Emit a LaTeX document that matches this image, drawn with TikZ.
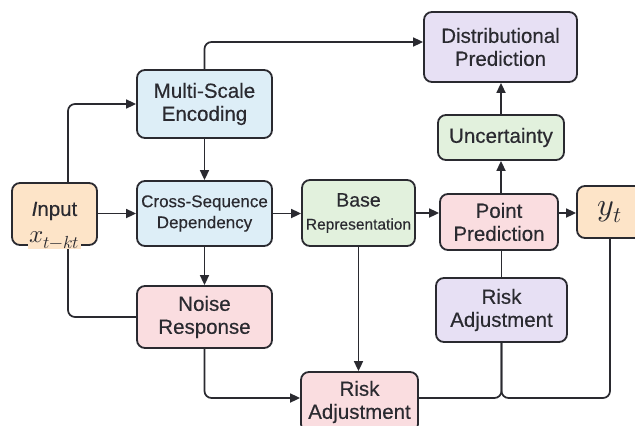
\documentclass[tikz,border=0pt]{standalone}
\usepackage{fontspec}
\usepackage{unicode-math}
\setmainfont{Liberation Sans}[FakeBold=0.35]
\setmathfont{Latin Modern Math}
\usetikzlibrary{arrows.meta,calc}
\definecolor{bordc}{HTML}{2A2A30}
\definecolor{orangef}{HTML}{FDE4C8}
\definecolor{bluef}{HTML}{DDEEF7}
\definecolor{greenf}{HTML}{E2F1DD}
\definecolor{pinkf}{HTML}{FADDE0}
\definecolor{purplef}{HTML}{E7E0F4}
\tikzset{
  box/.style={draw=bordc, line width=1.8pt, rounded corners=8pt, align=center,
    inner sep=0pt, font=\fontsize{20.5}{23}\selectfont, text=bordc},
  conn/.style={draw=bordc, line width=1.7pt, rounded corners=7pt},
  arr/.style={conn, -{Triangle[length=10pt,width=9pt]}},
}
\begin{document}
\begin{tikzpicture}[x=1pt,y=-1pt]
\useasboundingbox (0,0) rectangle (635,426);
\clip (0,0) rectangle (635,426);
\fill[white] (0,0) rectangle (635,426);

% nodes
\node[box, fill=orangef, minimum width=85pt, minimum height=62pt] (in) at (54.5,214) {};
\node[font=\fontsize{20.5}{23}\selectfont, text=bordc] (intext) at (54.5,211) {\textit{I}nput};
\node[box, fill=bluef, minimum width=135pt, minimum height=68pt] (mse) at (204.5,104) {Multi-Scale\\Encoding};
\node[box, fill=bluef, minimum width=135pt, minimum height=65pt, font=\fontsize{17}{21}\selectfont] (csd) at (204.5,213.5) {Cross-Sequence\\Dependency};
\node[box, fill=pinkf, minimum width=135pt, minimum height=62pt] (nr) at (204.5,317) {Noise\\Response};
\node[box, fill=greenf, minimum width=113pt, minimum height=66pt] (base) at (358.5,213) {\fontsize{19.5}{22}\selectfont Base\\\fontsize{15.5}{20}\selectfont Representation};
\node[box, fill=pinkf, minimum width=117pt, minimum height=60pt] (riskb) at (359.5,402) {Risk\\Adjustment};
\node[box, fill=purplef, minimum width=153pt, minimum height=70pt] (dp) at (500.5,47) {Distributional\\Prediction};
\node[box, fill=greenf, minimum width=126pt, minimum height=45pt] (unc) at (501,137.5) {Uncertainty};
\node[box, fill=pinkf, minimum width=118pt, minimum height=56pt] (pp) at (499,222) {Point\\Prediction};
\node[box, fill=orangef, minimum width=66pt, minimum height=52pt, font=\fontsize{32}{34}\selectfont] (yt) at (610,212) {$y_t$};
\node[box, fill=purplef, minimum width=131pt, minimum height=64pt] (riskr) at (501.5,310) {Risk\\Adjustment};

% connectors
\draw[arr] ([xshift=13.5pt]in.north) |- (mse.west);
\draw[arr] (in.east |- csd.west) -- (csd.west);
\draw[conn] ([xshift=13.5pt]in.south) |- (nr.west);
\draw[arr] (mse.north) |- ([yshift=5pt]dp.west);
\draw[arr] (mse.south) -- (csd.north);
\draw[arr] (csd.south) -- (nr.north);
\draw[arr] (csd.east) -- (csd.east -| base.west);
\draw[arr] (base.east) -- (base.east -| pp.west);
\draw[arr] (base.south) -- (base.south |- riskb.north);
\draw[arr] (nr.south) |- ([yshift=4pt]riskb.west);
\draw[arr] (pp.north -| unc.south) -- (unc.south);
\draw[arr] (unc.north) -- (unc.north |- dp.south);
\draw[arr] (base.east -| pp.east) -- (base.east -| yt.west);
\draw[conn] (pp.south -| riskr.north) -- (riskr.north);
\coordinate (bus) at ([yshift=4pt]riskb.east);
\draw[conn] (bus) -| (riskr.south);
\draw[conn] (riskr.south) |- (bus -| yt.south) -- (yt.south);

% math label on input border
\node[fill=orangef, inner xsep=1pt, inner ysep=0pt, font=\fontsize{25}{27}\selectfont, text=bordc] (inmath) at (54.5,240) {$x_{t-kt}$};
\end{tikzpicture}
\end{document}
